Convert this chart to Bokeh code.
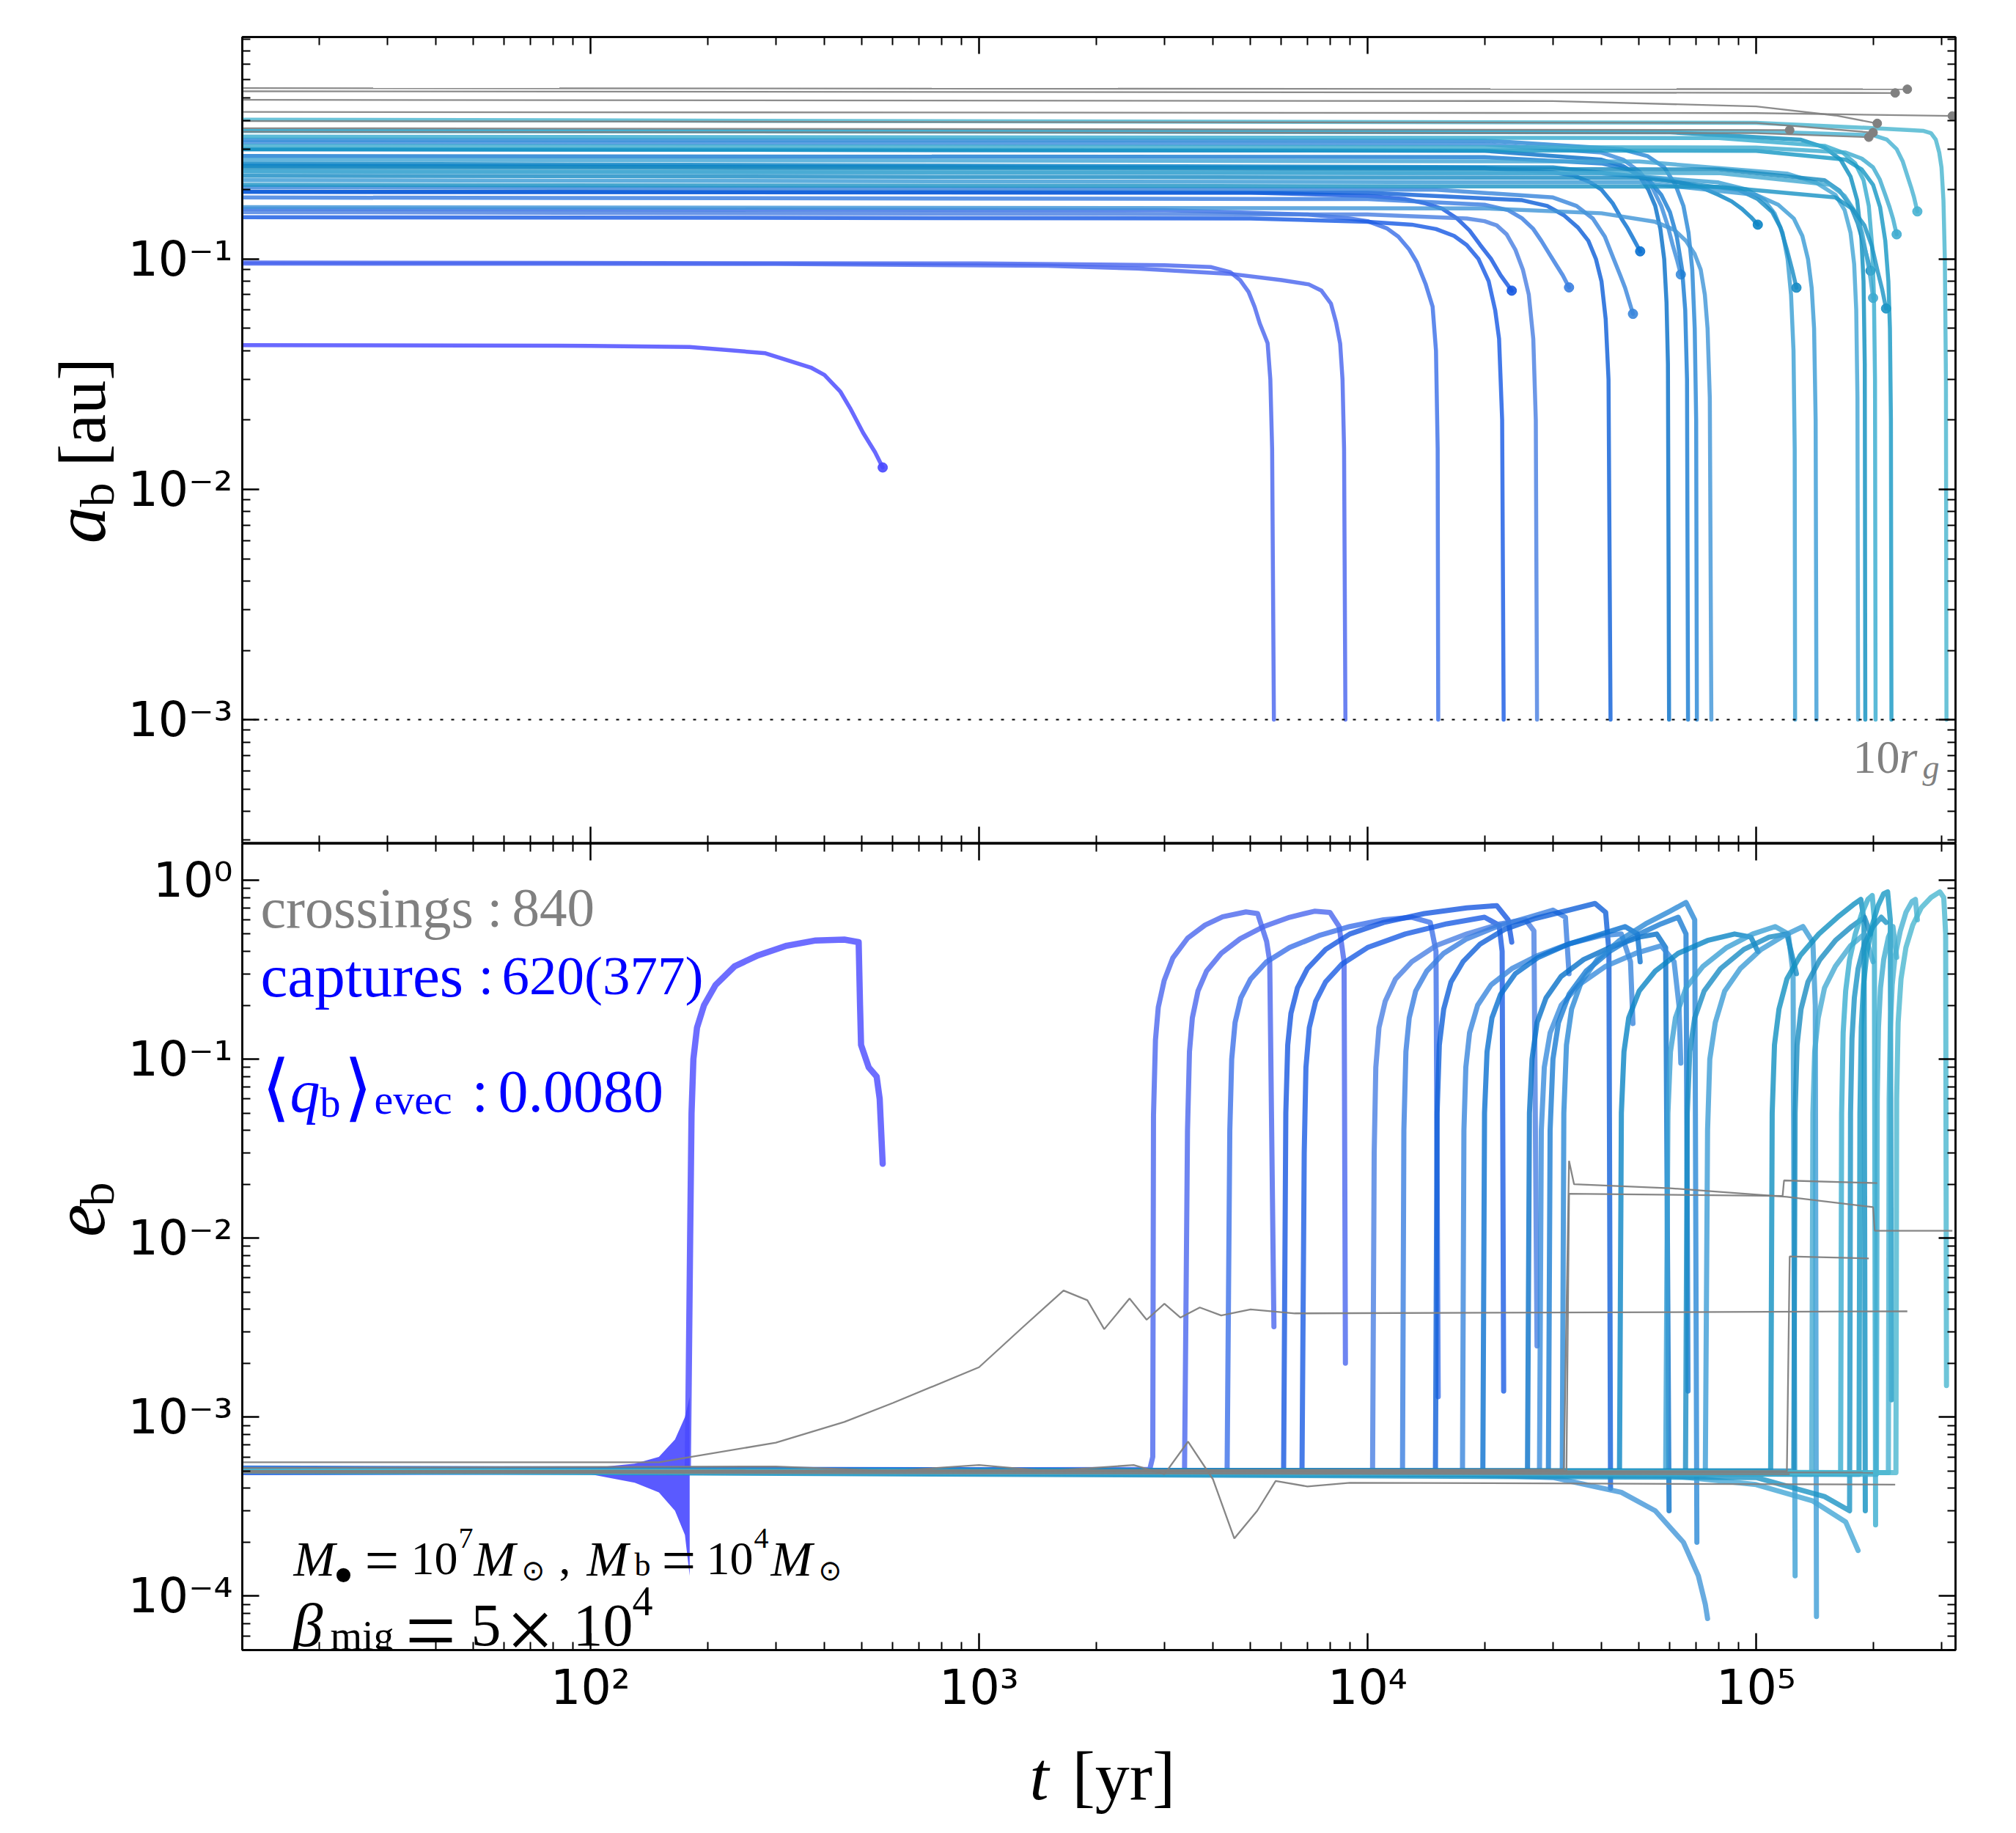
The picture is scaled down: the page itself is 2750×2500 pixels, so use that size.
import math
from bokeh.plotting import figure
from bokeh.models import Range1d, LogAxis, FixedTicker, CustomJSTickFormatter, Label, Span
from bokeh.layouts import column, row
from bokeh.embed import file_html
from bokeh.resources import INLINE

# ---------------- data: captured binaries, (t [yr], a_b [au]) and (t [yr], e_b) ----------------
C00_A = [(12, 0.0423), (100, 0.0420), (180, 0.0415), (282, 0.039), (369, 0.0338), (400, 0.0314), (440, 0.0265), (466, 0.0225), (503, 0.0176), (540, 0.0145), (565, 0.01245)]
C00_E = [(12, 5.0e-4), (178, 5.0e-4), (180.5, 0.01), (182, 0.05), (184, 0.1), (188, 0.15), (196, 0.2), (210, 0.26), (235, 0.33), (270, 0.38), (320, 0.43), (380, 0.46), (450, 0.465), (490, 0.45), (494, 0.2), (497, 0.12), (520, 0.09), (545, 0.08), (555, 0.06), (565, 0.026)]
C00_BAND_T = [100, 130, 150, 165, 175, 180]
C00_BAND_UP = [5.2e-4, 5.5e-4, 6.0e-4, 7.5e-4, 1.0e-3, 1.3e-3]
C00_BAND_LO = [4.8e-4, 4.3e-4, 3.8e-4, 3.0e-4, 2.2e-4, 1.3e-4]

C01_A = [(12, 0.0966), (1000, 0.0957), (3000, 0.094), (3960, 0.0922), (4430, 0.0877), (4700, 0.081), (4940, 0.072), (5120, 0.062), (5280, 0.0525), (5420, 0.047), (5530, 0.0431), (5620, 0.03), (5680, 0.015), (5740, 0.001)]
C01_E = [(12, 5.0e-4), (2750, 5.1e-4), (2800, 6e-4), (2812, 0.0485), (2845, 0.128), (2893, 0.195), (2995, 0.274), (3155, 0.368), (3443, 0.474), (3819, 0.561), (4236, 0.624), (4864, 0.664), (5212, 0.65), (5497, 0.455), (5600, 0.35), (5741, 0.0032)]
C02_A = [(12, 0.0955), (300, 0.0952), (1500, 0.0935), (2550, 0.0909), (4500, 0.086), (6000, 0.081), (7060, 0.0776), (7600, 0.073), (8050, 0.064), (8300, 0.053), (8500, 0.043), (8620, 0.03), (8700, 0.015), (8770, 0.001)]
C02_E = [(12, 5.0e-4), (3380, 5.0e-4), (3440, 0.04), (3480, 0.11), (3540, 0.17), (3660, 0.24), (3850, 0.31), (4200, 0.39), (4700, 0.47), (5400, 0.55), (6300, 0.62), (7300, 0.67), (8000, 0.66), (8450, 0.55), (8700, 0.35), (8770, 0.002)]
C03_A = [(12, 0.165), (3000, 0.163), (7000, 0.156), (9000, 0.15), (10000, 0.146), (11200, 0.136), (12000, 0.125), (12800, 0.11), (13400, 0.0966), (14100, 0.078), (14700, 0.0622), (15000, 0.04), (15150, 0.015), (15200, 0.001)]
C03_E = [(12, 5.0e-4), (4350, 5.0e-4), (4420, 0.04), (4470, 0.1), (4560, 0.16), (4720, 0.22), (5000, 0.28), (5500, 0.35), (6300, 0.42), (7500, 0.49), (9000, 0.55), (11000, 0.6), (13000, 0.62), (14500, 0.58), (15000, 0.4), (15200, 0.0013)]
C04_A = [(12, 0.196), (5000, 0.194), (10000, 0.188), (12500, 0.182), (14000, 0.175), (15600, 0.165), (17000, 0.15), (18300, 0.133), (19500, 0.115), (20800, 0.1), (22000, 0.085), (23500, 0.0729)]
C04_E = [(12, 4.9e-4), (6080, 5.0e-4), (6160, 0.05), (6230, 0.12), (6350, 0.18), (6600, 0.25), (7000, 0.32), (7800, 0.41), (9000, 0.5), (11000, 0.58), (14000, 0.65), (18000, 0.7), (21500, 0.72), (23000, 0.6), (23500, 0.45)]
C05_A = [(12, 0.152), (5000, 0.15), (10000, 0.145), (13000, 0.141), (15000, 0.135), (16700, 0.126), (18000, 0.115), (19300, 0.1), (20500, 0.08), (21300, 0.06), (21800, 0.045), (22200, 0.02), (22400, 0.001)]
C05_E = [(12, 5.1e-4), (6780, 5.0e-4), (6870, 0.03), (6940, 0.09), (7080, 0.15), (7350, 0.21), (7800, 0.27), (8600, 0.34), (10000, 0.42), (12500, 0.5), (16000, 0.57), (20000, 0.62), (21800, 0.56), (22200, 0.4), (22400, 0.0014)]
C06_A = [(12, 0.16), (10000, 0.156), (18000, 0.15), (20000, 0.146), (21500, 0.14), (22800, 0.128), (24000, 0.11), (25100, 0.09), (26000, 0.07), (26700, 0.045), (27100, 0.02), (27300, 0.001)]
C06_E = [(12, 5.0e-4), (10300, 5.0e-4), (10400, 0.03), (10500, 0.09), (10700, 0.15), (11100, 0.21), (11800, 0.28), (13000, 0.35), (15000, 0.43), (18000, 0.5), (22000, 0.57), (25500, 0.6), (26800, 0.52), (27300, 0.0025)]
C07_A = [(12, 0.185), (10000, 0.182), (20000, 0.172), (23000, 0.163), (25000, 0.15), (26700, 0.135), (28000, 0.12), (29300, 0.106), (30500, 0.095), (31800, 0.085), (33000, 0.0753)]
C07_E = [(12, 5.0e-4), (12300, 5.0e-4), (12400, 0.04), (12550, 0.11), (12800, 0.17), (13300, 0.24), (14200, 0.31), (15700, 0.39), (18000, 0.47), (21500, 0.55), (26000, 0.62), (30000, 0.68), (32300, 0.62), (33000, 0.3)]
C08_A = [(12, 0.196), (10000, 0.194), (25000, 0.18), (29000, 0.17), (32000, 0.155), (34800, 0.137), (37000, 0.12), (38700, 0.1), (40000, 0.08), (41000, 0.055), (41700, 0.03), (42200, 0.001)]
C08_E = [(12, 5.2e-4), (14950, 5.0e-4), (15100, 0.05), (15300, 0.12), (15700, 0.19), (16400, 0.27), (17600, 0.35), (19500, 0.44), (22500, 0.53), (27000, 0.61), (33000, 0.68), (38500, 0.74), (41000, 0.66), (41800, 0.4), (42200, 4.0e-4)]
C09_A = [(12, 0.205), (15000, 0.2), (30000, 0.185), (34500, 0.17), (38000, 0.15), (40800, 0.125), (43000, 0.1), (44700, 0.085), (46000, 0.075), (48200, 0.0578)]
C09_E = [(12, 5.0e-4), (17550, 5.0e-4), (17700, 0.04), (17900, 0.09), (18300, 0.14), (19200, 0.2), (20800, 0.26), (23500, 0.32), (27500, 0.38), (33000, 0.44), (40000, 0.49), (45000, 0.5), (47500, 0.35), (48200, 0.158)]
C10_A = [(12, 0.254), (20000, 0.248), (30000, 0.238), (34000, 0.23), (37300, 0.216), (40000, 0.2), (42700, 0.175), (45000, 0.15), (46700, 0.136), (48000, 0.125), (50300, 0.108)]
C10_E = [(12, 5.0e-4), (19800, 5.0e-4), (20000, 0.05), (20300, 0.11), (20900, 0.17), (22000, 0.23), (24000, 0.3), (27500, 0.37), (33000, 0.44), (40000, 0.5), (46000, 0.55), (49500, 0.5), (50300, 0.35)]
C11_A = [(12, 0.30), (20000, 0.295), (40000, 0.27), (45500, 0.253), (50000, 0.23), (52800, 0.2), (55000, 0.17), (56700, 0.135), (58000, 0.1), (58800, 0.065), (59300, 0.035), (59700, 0.001)]
C11_E = [(12, 5.0e-4), (25800, 5.0e-4), (26100, 0.05), (26500, 0.1), (27300, 0.16), (28800, 0.22), (31500, 0.29), (36000, 0.36), (42000, 0.42), (50000, 0.48), (55500, 0.5), (58500, 0.42), (59700, 3.0e-4)]
C12_A = [(12, 0.32), (20000, 0.315), (40000, 0.29), (45500, 0.27), (50000, 0.24), (54000, 0.205), (57000, 0.17), (59200, 0.14), (61000, 0.115), (62700, 0.098), (64000, 0.0857)]
C12_E = [(12, 5.0e-4), (27700, 5.0e-4), (28000, 0.04), (28500, 0.09), (29500, 0.14), (31500, 0.2), (35000, 0.26), (41000, 0.33), (49000, 0.39), (57000, 0.43), (61500, 0.35), (63300, 0.2), (64000, 0.095)]
C13_A = [(12, 0.28), (20000, 0.277), (40000, 0.26), (47500, 0.243), (53000, 0.22), (57000, 0.19), (60000, 0.16), (62500, 0.125), (64500, 0.09), (65700, 0.06), (66400, 0.03), (66800, 0.001)]
C13_E = [(12, 5.0e-4), (29200, 5.0e-4), (29500, 0.04), (30000, 0.1), (31000, 0.16), (33000, 0.23), (36500, 0.31), (42000, 0.4), (49000, 0.49), (57000, 0.57), (63000, 0.62), (66000, 0.5), (66800, 0.0014)]
C14_A = [(12, 0.33), (20000, 0.327), (45000, 0.3), (52500, 0.28), (58000, 0.25), (62000, 0.21), (65000, 0.17), (67000, 0.13), (68500, 0.09), (69500, 0.05), (70100, 0.02), (70400, 0.001)]
C14_E = [(12, 5.0e-4), (31700, 5.0e-4), (32000, 0.05), (32500, 0.12), (33500, 0.19), (35500, 0.27), (39000, 0.36), (44500, 0.46), (52000, 0.57), (60000, 0.67), (66000, 0.75), (69500, 0.6), (70400, 2.0e-4)]
C15_A = [(12, 0.168), (20000, 0.166), (40000, 0.158), (55000, 0.145), (61500, 0.134), (66000, 0.12), (69500, 0.105), (72000, 0.09), (73800, 0.07), (75000, 0.05), (76000, 0.025), (76700, 0.001)]
C15_E = [(12, 5.0e-4), (10000, 5.0e-4), (30000, 4.6e-4), (45000, 3.8e-4), (55000, 3.0e-4), (65000, 2.0e-4), (71000, 1.3e-4), (74000, 9.0e-5), (75000, 7.5e-5)]
C16_A = [(12, 0.26), (30000, 0.25), (60000, 0.22), (72000, 0.205), (80000, 0.19), (86500, 0.178), (92000, 0.165), (97000, 0.152), (101000, 0.141)]
C16_E = [(12, 5.0e-4), (44500, 5.0e-4), (45000, 0.05), (45700, 0.11), (47000, 0.17), (50000, 0.24), (55000, 0.31), (63000, 0.39), (75000, 0.46), (88000, 0.5), (97000, 0.48), (101000, 0.4)]
C17_A = [(12, 0.24), (40000, 0.235), (80000, 0.215), (95000, 0.2), (105000, 0.18), (111500, 0.158), (117000, 0.13), (120500, 0.1), (123000, 0.07), (124800, 0.04), (125700, 0.015), (126000, 0.001)]
C17_E = [(12, 5.0e-4), (58500, 4.7e-4), (59300, 0.05), (60200, 0.11), (62000, 0.17), (66000, 0.25), (73000, 0.33), (84000, 0.42), (98000, 0.5), (112000, 0.55), (121000, 0.5), (124500, 0.3), (126000, 1.3e-4)]
C18_A = [(12, 0.23), (50000, 0.225), (90000, 0.2), (101000, 0.182), (110000, 0.16), (115500, 0.137), (120000, 0.11), (123800, 0.09), (127000, 0.0751)]
C18_E = [(12, 5.0e-4), (65800, 4.8e-4), (66500, 0.05), (67500, 0.11), (69500, 0.17), (73500, 0.24), (81000, 0.32), (93000, 0.41), (108000, 0.48), (120000, 0.5), (127000, 0.3)]
C19_A = [(12, 0.22), (50000, 0.215), (100000, 0.19), (114000, 0.172), (125000, 0.15), (131500, 0.126), (136000, 0.1), (139000, 0.075), (141000, 0.05), (142300, 0.02), (143000, 0.001)]
C19_E = [(12, 5.0e-4), (74000, 4.8e-4), (75000, 0.04), (76000, 0.1), (78500, 0.16), (83000, 0.24), (91000, 0.32), (103000, 0.41), (118000, 0.49), (132000, 0.55), (140000, 0.45), (142000, 0.2), (143000, 7.7e-5)]
C20_A = [(12, 0.27), (50000, 0.265), (120000, 0.235), (143000, 0.214), (160000, 0.19), (169000, 0.163), (175000, 0.13), (178800, 0.095), (181000, 0.06), (182300, 0.025), (183000, 0.001)]
C20_E = [(12, 5.0e-4), (50000, 4.9e-4), (100000, 4.2e-4), (140000, 3.4e-4), (170000, 2.6e-4), (183000, 1.8e-4)]
C21_A = [(12, 0.36), (60000, 0.355), (130000, 0.33), (150000, 0.305), (165000, 0.27), (175000, 0.228), (182000, 0.18), (186500, 0.125), (189000, 0.08), (190400, 0.035), (191000, 0.001)]
C21_E = [(12, 5.0e-4), (109000, 5.0e-4), (110000, 0.05), (111500, 0.12), (114500, 0.19), (120000, 0.28), (130000, 0.38), (145000, 0.5), (162000, 0.62), (178000, 0.73), (186000, 0.78), (189500, 0.6), (191000, 3.0e-4)]
C22_A = [(12, 0.25), (80000, 0.245), (150000, 0.22), (164000, 0.198), (175000, 0.17), (182500, 0.143), (188000, 0.12), (193000, 0.102), (197000, 0.089)]
C22_E = [(12, 5.0e-4), (125000, 5.0e-4), (126000, 0.05), (127500, 0.12), (130500, 0.19), (136000, 0.27), (146000, 0.36), (160000, 0.46), (176000, 0.55), (190000, 0.62), (197000, 0.5)]
C23_A = [(12, 0.24), (80000, 0.236), (155000, 0.21), (169000, 0.188), (180000, 0.16), (187500, 0.13), (193000, 0.1), (197000, 0.082), (200000, 0.0678)]
C23_E = [(12, 5.0e-4), (139000, 4.8e-4), (140000, 0.05), (141500, 0.11), (144500, 0.17), (150000, 0.25), (160000, 0.33), (175000, 0.43), (190000, 0.5), (200000, 0.35)]
C24_A = [(12, 0.34), (80000, 0.335), (150000, 0.31), (167000, 0.29), (180000, 0.26), (189000, 0.22), (195000, 0.17), (198800, 0.115), (201000, 0.07), (202300, 0.03), (203000, 0.001)]
C24_E = [(12, 5.0e-4), (165000, 4.9e-4), (166000, 0.05), (167500, 0.14), (170000, 0.24), (174000, 0.36), (180000, 0.5), (187000, 0.65), (194000, 0.78), (199000, 0.82), (201500, 0.6), (203000, 2.5e-4)]
C25_A = [(12, 0.21), (80000, 0.206), (160000, 0.185), (177000, 0.165), (190000, 0.14), (198500, 0.114), (205000, 0.09), (211000, 0.074), (216000, 0.061)]
C25_E = [(12, 5.0e-4), (100000, 4.6e-4), (150000, 3.6e-4), (174000, 3.0e-4), (175000, 0.05), (176500, 0.13), (179000, 0.22), (183000, 0.32), (190000, 0.44), (200000, 0.55), (210000, 0.62), (216000, 0.58)]
C26_A = [(12, 0.30), (100000, 0.295), (170000, 0.27), (187000, 0.245), (200000, 0.21), (208500, 0.168), (215000, 0.12), (219000, 0.08), (221000, 0.05), (222300, 0.02), (223000, 0.001)]
C26_E = [(12, 5.0e-4), (184000, 4.8e-4), (185000, 0.05), (186500, 0.15), (189000, 0.26), (193000, 0.4), (199000, 0.56), (206000, 0.72), (213000, 0.84), (218000, 0.86), (221500, 0.6), (223000, 0.00125)]
C27_A = [(12, 0.31), (100000, 0.305), (170000, 0.29), (187000, 0.273), (200000, 0.25), (208000, 0.222), (215000, 0.19), (220500, 0.168), (225000, 0.15), (230000, 0.128)]
C27_E = [(12, 5.0e-4), (204000, 4.8e-4), (205000, 0.06), (206500, 0.15), (209000, 0.25), (213000, 0.36), (219000, 0.48), (225000, 0.55), (230000, 0.37)]
C28_A = [(12, 0.36), (100000, 0.358), (200000, 0.345), (217000, 0.33), (230000, 0.3), (238500, 0.265), (245000, 0.23), (250500, 0.205), (255000, 0.185), (260000, 0.161)]
C28_E = [(12, 5.0e-4), (219000, 4.9e-4), (220000, 0.06), (221500, 0.15), (224000, 0.26), (228000, 0.38), (235000, 0.52), (243000, 0.66), (252000, 0.76), (257000, 0.78), (260000, 0.6)]
C29_A = [(12, 0.403), (100000, 0.39), (200000, 0.37), (250000, 0.363), (270000, 0.36), (282000, 0.352), (290000, 0.33), (296000, 0.29), (300000, 0.25), (303500, 0.18), (306000, 0.1), (308000, 0.03), (309000, 0.001)]
C29_E = [(12, 5.0e-4), (229000, 4.9e-4), (230000, 0.06), (232000, 0.16), (236000, 0.28), (243000, 0.42), (253000, 0.56), (266000, 0.7), (282000, 0.8), (297000, 0.86), (304000, 0.8), (307500, 0.5), (309000, 0.0015)]

CAPTURE_COLORS = ["#4848ff", "#4a66ee", "#4a66ee", "#3c70e8", "#1658e0", "#1a5ce4", "#4a80e2", "#3a7ee0",
                  "#1060d8", "#3a86dc", "#0a70d0", "#0870c8", "#3a8cdc", "#1a7cd2", "#2a88d6", "#4296d8",
                  "#0a84c4", "#3ca0d4", "#1a8cc4", "#3c9cd6", "#44a6d6", "#1090c0", "#1a8cc0", "#46aad2",
                  "#38acd0", "#1c94c4", "#1898c4", "#40acd0", "#48b2d2", "#4ab6d0"]

# ---------------- data: crossings that were not captured (grey) ----------------
G1_A = [(12, 0.552), (245000, 0.546)]
G1_E = [(12, 5.6e-4), (150, 5.6e-4), (300, 7.2e-4), (450, 9.4e-4), (600, 1.2e-3), (1000, 1.9e-3), (1300, 3.2e-3), (1650, 5.1e-3), (1900, 4.5e-3), (2100, 3.1e-3), (2440, 4.6e-3), (2700, 3.5e-3), (3000, 4.3e-3), (3300, 3.6e-3), (3700, 4.1e-3), (4200, 3.7e-3), (5000, 4.0e-3), (6500, 3.8e-3), (245000, 3.9e-3)]
G2_A = [(12, 0.535), (228000, 0.526)]
G2_E = [(12, 5.2e-4), (300, 5.3e-4), (600, 5.0e-4), (1000, 5.4e-4), (1500, 5.0e-4), (2500, 5.4e-4), (3000, 4.8e-4), (3450, 7.3e-4), (4000, 4.5e-4), (4540, 2.1e-4), (5200, 3.0e-4), (5800, 4.4e-4), (7000, 4.1e-4), (9000, 4.3e-4), (228000, 4.2e-4)]
G3_A = [(12, 0.435), (100000, 0.43), (320000, 0.418)]
G3_E = [(12, 5.0e-4), (32000, 5.1e-4), (33000, 0.027), (34000, 0.02), (60000, 0.019), (120000, 0.017), (200000, 0.0149), (202000, 0.011), (320000, 0.011)]
G4_A = [(12, 0.491), (30000, 0.485), (100000, 0.46), (160000, 0.42), (205000, 0.388)]
G4_E = [(12, 5.0e-4), (32500, 5.0e-4), (33000, 0.0177), (117000, 0.0172), (118000, 0.021), (205000, 0.0203)]
G5_A = [(12, 0.357), (100000, 0.352), (195000, 0.338)]
G5_E = [(12, 5.0e-4), (120000, 5.0e-4), (122000, 0.0079), (195000, 0.0077)]
G6_A = [(12, 0.370), (122000, 0.363)]
G6_E = [(12, 4.9e-4), (122000, 4.8e-4)]
G7_A = [(12, 0.397), (100000, 0.39), (200000, 0.354)]
G7_E = [(12, 5.0e-4), (200000, 4.9e-4)]
GREY = "#808080"

R10G_AU = 1e-3          # 10 r_g in au
X_LIM = (12.7, 3.26e5)
A_LIM = (2.9e-4, 0.92)
E_LIM = (5e-5, 1.6)

X_MAJOR = [1e2, 1e3, 1e4, 1e5]
A_MAJOR = [1e-3, 1e-2, 1e-1]
E_MAJOR = [1e-4, 1e-3, 1e-2, 1e-1, 1e0]

CAPTURES_A = [C00_A, C01_A, C02_A, C03_A, C04_A, C05_A, C06_A, C07_A, C08_A, C09_A, C10_A, C11_A, C12_A, C13_A, C14_A,
              C15_A, C16_A, C17_A, C18_A, C19_A, C20_A, C21_A, C22_A, C23_A, C24_A, C25_A, C26_A, C27_A, C28_A, C29_A]
CAPTURES_E = [C00_E, C01_E, C02_E, C03_E, C04_E, C05_E, C06_E, C07_E, C08_E, C09_E, C10_E, C11_E, C12_E, C13_E, C14_E,
              C15_E, C16_E, C17_E, C18_E, C19_E, C20_E, C21_E, C22_E, C23_E, C24_E, C25_E, C26_E, C27_E, C28_E, C29_E]
GREYS_A = [G1_A, G2_A, G3_A, G4_A, G5_A, G6_A, G7_A]
GREYS_E = [G1_E, G2_E, G3_E, G4_E, G5_E, G6_E, G7_E]

# ---------------- layout (page pixels) ----------------
W_TOTAL, H_TOTAL = 2734, 2484
WL = 170                      # left strip holding the y-axis titles
L_F, R_F = 330, 2667          # frame left / right
T1, B1 = 50, 1150             # top panel frame
T2, B2 = 1150, 2250           # bottom panel frame
BOT2 = 100                    # bottom border of lower panel (tick labels)
H1 = B1
H2 = B2 - T2 + BOT2
HB = H_TOTAL - H1 - H2
SERIF = "Liberation Serif"
SANS = "DejaVu Sans"
BLUE = "#0000ff"
MID = 0.3375                  # middle of the em box above the baseline (Liberation Serif)

LX0, LX1 = math.log10(X_LIM[0]), math.log10(X_LIM[1])


def xd(px):
    return 10 ** (LX0 + (px - L_F) / (R_F - L_F) * (LX1 - LX0))


def yd(py, top):
    lo, hi = (A_LIM if top else E_LIM)
    t, b = (T1, B1) if top else (T2, B2)
    l0, l1 = math.log10(lo), math.log10(hi)
    return 10 ** (l1 - (py - t) / (b - t) * (l1 - l0))


def minors(lo, hi):
    out = []
    for e in range(-6, 7):
        for k in range(2, 10):
            v = k * 10.0 ** e
            if lo <= v <= hi:
                out.append(v)
    return out


SUP_FMT = CustomJSTickFormatter(code="""
const e = Math.round(Math.log10(tick));
const sup = {'-':'\u207b','0':'\u2070','1':'\u00b9','2':'\u00b2','3':'\u00b3','4':'\u2074','5':'\u2075','6':'\u2076','7':'\u2077','8':'\u2078','9':'\u2079'};
return '10' + String(e).split('').map(c => sup[c]).join('');
""")


def style_axis(ax, majors, minor_list, labels):
    ax.ticker = FixedTicker(ticks=majors, minor_ticks=minor_list)
    ax.major_tick_in = 23
    ax.major_tick_out = 0
    ax.minor_tick_in = 11
    ax.minor_tick_out = 0
    ax.major_tick_line_width = 2.5
    ax.minor_tick_line_width = 2
    ax.major_tick_line_color = "black"
    ax.minor_tick_line_color = "black"
    ax.axis_line_width = 2.5
    ax.axis_line_color = "black"
    if labels:
        ax.formatter = SUP_FMT
        ax.major_label_text_font = SANS
        ax.major_label_text_font_size = "65px"
        ax.major_label_text_color = "black"
        ax.major_label_standoff = 13
    else:
        ax.formatter = CustomJSTickFormatter(code="return ''")
        ax.major_label_text_font_size = "0px"
        ax.major_label_standoff = 0


x_range = Range1d(*X_LIM)


def make_fig(height, yrange, ymaj, top):
    p = figure(width=W_TOTAL - WL, height=height, x_axis_type="log", y_axis_type="log",
               x_range=x_range, y_range=Range1d(*yrange),
               output_backend="svg", toolbar_location=None,
               min_border_left=L_F - WL, min_border_right=W_TOTAL - R_F,
               min_border_top=T1 if top else 0,
               min_border_bottom=0 if top else BOT2)
    p.grid.visible = False
    p.outline_line_color = "black"
    p.outline_line_width = 2.5
    p.background_fill_color = "white"
    p.border_fill_color = "white"
    xmin = minors(*X_LIM)
    ymin = minors(*yrange)
    style_axis(p.xaxis[0], X_MAJOR, xmin, labels=not top)
    style_axis(p.yaxis[0], ymaj, ymin, labels=True)
    ax_above = LogAxis()
    style_axis(ax_above, X_MAJOR, xmin, labels=False)
    p.add_layout(ax_above, "above")
    ax_right = LogAxis()
    style_axis(ax_right, ymaj, ymin, labels=False)
    p.add_layout(ax_right, "right")
    return p


def make_strip(width, height):
    s = figure(width=width, height=height, x_range=Range1d(0, width), y_range=Range1d(0, height),
               output_backend="svg", toolbar_location=None, x_axis_location=None,
               y_axis_location=None, min_border=0)
    s.grid.visible = False
    s.outline_line_color = None
    s.background_fill_color = "white"
    s.border_fill_color = "white"
    return s


p1 = make_fig(H1, A_LIM, A_MAJOR, True)
p2 = make_fig(H2, E_LIM, E_MAJOR, False)
s1 = make_strip(WL, H1)
s2 = make_strip(WL, H2)
sb = make_strip(W_TOTAL, HB)


def lab(p, x, y, text, size, color="black", style="normal", font=SERIF, align="left",
        angle=0.0, baseline="alphabetic"):
    p.add_layout(Label(x=x, y=y, text=text, text_font=font, text_font_size=f"{size}px",
                       text_font_style=style, text_color=color, text_align=align,
                       text_baseline=baseline, angle=angle, angle_units="rad"))


def labp(p, px, py, text, size, top, **kw):
    lab(p, xd(px), yd(py, top), text, size, **kw)


def labs(s, px, py, y0, h, text, size, **kw):
    # strip label: page px -> strip coords (y measured upward from strip bottom)
    lab(s, px, h - (py - y0), text, size, **kw)


def vlab(s, base_x, center_y, y0, h, text, size, **kw):
    # vertical text reading bottom-to-top; base_x = page x of its baseline
    labs(s, base_x - MID * size, center_y, y0, h, text, size, align="center",
         angle=math.pi / 2, baseline="middle", **kw)


# ---------------- top panel: a_b ----------------
for pts, col in zip(CAPTURES_A, CAPTURE_COLORS):
    ts = [q[0] for q in pts]
    vs = [q[1] for q in pts]
    p1.line(ts, vs, line_color=col, line_width=5.5, line_alpha=0.82, line_join="round", line_cap="round")
    if vs[-1] > 1.1 * R10G_AU:
        p1.scatter([ts[-1]], [vs[-1]], size=13, fill_color=col, line_color=col, fill_alpha=0.9, line_alpha=0.9)

for pts in GREYS_A:
    ts = [q[0] for q in pts]
    vs = [q[1] for q in pts]
    p1.line(ts, vs, line_color=GREY, line_width=2.3, line_alpha=0.9)
    p1.scatter([ts[-1]], [vs[-1]], size=12, fill_color=GREY, line_color=GREY)

p1.add_layout(Span(location=R10G_AU, dimension="width", line_color="black",
                   line_width=2, line_dash="4 11"))

labp(p1, 2527, 1032, "10", 64, True, color=GREY)
labp(p1, 2590, 1032, "r", 64, True, color=GREY, style="italic")
labp(p1, 2622, 1046, "g", 46, True, color=GREY, style="italic")

# y title a_b [au]
vlab(s1, 143, 696, 0, H1, "a", 100, style="italic")
vlab(s1, 154, 653, 0, H1, "b", 66)
vlab(s1, 143, 535, 0, H1, "[au]", 92)

# ---------------- bottom panel: e_b ----------------
p2.varea(x=C00_BAND_T, y1=C00_BAND_LO, y2=C00_BAND_UP, fill_color=CAPTURE_COLORS[0], fill_alpha=0.9)
for i, (pts, col) in enumerate(zip(CAPTURES_E, CAPTURE_COLORS)):
    ts = [q[0] for q in pts]
    vs = [q[1] for q in pts]
    p2.line(ts, vs, line_color=col, line_width=8.5 if i == 0 else 7, line_alpha=0.8,
            line_join="round", line_cap="round")

for pts in GREYS_E:
    ts = [q[0] for q in pts]
    vs = [q[1] for q in pts]
    p2.line(ts, vs, line_color=GREY, line_width=2.3, line_alpha=0.95)

labp(p2, 355, 1238, "crossings", 78, False, color=GREY)
labp(p2, 664, 1238, ":", 75, False, color=GREY)
labp(p2, 698, 1238, "840", 75, False, color=GREY)

labp(p2, 355, 1330, "captures", 83, False, color=BLUE)
labp(p2, 652, 1330, ":", 75, False, color=BLUE)
labp(p2, 684, 1330, "620(377)", 75, False, color=BLUE)

labp(p2, 356, 1482, "\u27e8", 100, False, color=BLUE, font=SANS)
labp(p2, 395, 1488, "q", 82, False, color=BLUE, style="italic")
labp(p2, 436, 1503, "b", 56, False, color=BLUE)
labp(p2, 468, 1482, "\u27e9", 100, False, color=BLUE, font=SANS)
labp(p2, 510, 1499, "evec", 58, False, color=BLUE)
labp(p2, 643, 1488, ":", 82, False, color=BLUE)
labp(p2, 679, 1488, "0.0080", 82, False, color=BLUE)

# parameters
labp(p2, 400, 2125, "M", 68, False, style="italic")
labp(p2, 454, 2147, "\u2022", 80, False)
labp(p2, 497, 2127, "=", 83, False)
labp(p2, 560, 2125, "10", 64, False)
labp(p2, 625, 2097, "7", 40, False)
labp(p2, 646, 2125, "M", 68, False, style="italic")
labp(p2, 711, 2141, "\u2299", 38, False, font=SANS)
labp(p2, 762, 2125, ",", 64, False)
labp(p2, 800, 2125, "M", 68, False, style="italic")
labp(p2, 865, 2134, "b", 44, False)
labp(p2, 902, 2127, "=", 83, False)
labp(p2, 963, 2125, "10", 64, False)
labp(p2, 1028, 2097, "4", 40, False)
labp(p2, 1051, 2125, "M", 68, False, style="italic")
labp(p2, 1116, 2141, "\u2299", 38, False, font=SANS)

labp(p2, 398, 2216, "\u03b2", 84, False, style="italic")
labp(p2, 450, 2230, "mig", 56, False)
labp(p2, 552, 2224, "=", 124, False)
labp(p2, 642, 2216, "5", 82, False)
labp(p2, 690, 2222, "\u00d7", 116, False)
labp(p2, 781, 2216, "10", 82, False)
labp(p2, 862, 2183, "4", 56, False)

# y title e_b
vlab(s2, 143, 1711, T2, H2, "e", 100, style="italic")
vlab(s2, 154, 1672, T2, H2, "b", 66)

# x title t [yr]
YB0 = H1 + H2
labs(sb, 1404, 2421, YB0, HB, "t", 94, style="italic")
labs(sb, 1462, 2421, YB0, HB, "[yr]", 94)

layout = column(row(s1, p1, spacing=0), row(s2, p2, spacing=0), sb, spacing=0)
with open("out.html", "w", encoding="utf-8") as f:
    f.write(file_html(layout, INLINE))
